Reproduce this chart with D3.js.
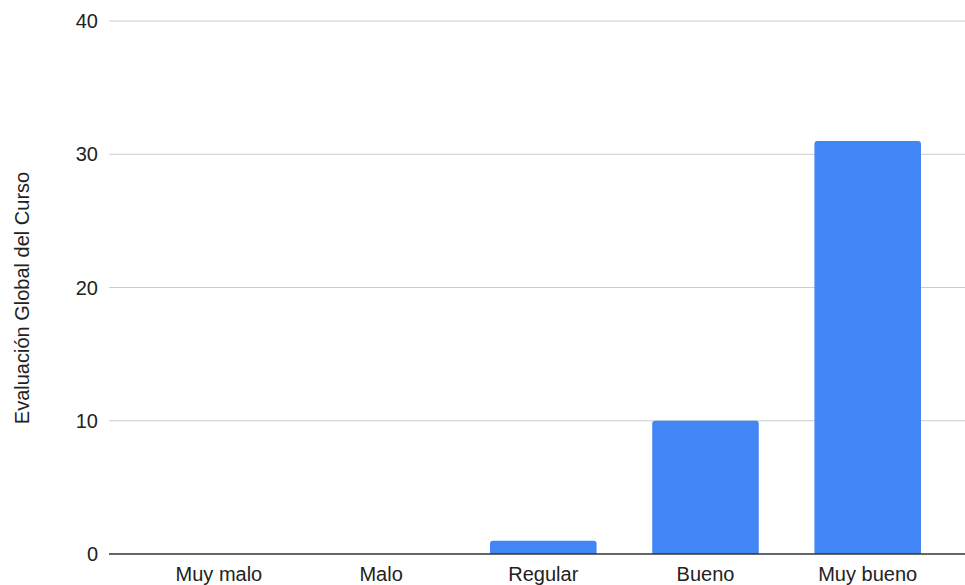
<!DOCTYPE html>
<html>
<head>
<meta charset="utf-8">
<script src="https://cdn.jsdelivr.net/npm/d3@7"></script>
<style>
    body { margin: 0; background: #fff; }
    svg { display: block; font-family: "Liberation Sans", Arial, sans-serif; }
</style>
</head>
<body>
<svg id="chart" width="965" height="585"></svg>
<script>
// Chart data
const categories = ['Muy malo', 'Malo', 'Regular', 'Bueno', 'Muy bueno'];
const values = [0, 0, 1, 10, 31];
const yTicks = [0, 10, 20, 30, 40];
const yTitle = 'Evaluación Global del Curso';

const svg = d3.select('#chart');

const plotLeft = 109, plotRight = 965;
const plotTop = 21, plotBottom = 554;

const x = d3.scaleBand()
    .domain(categories)
    .range([137.8, 948.8])
    .paddingInner(0.343)
    .paddingOuter(0.1715);

const y = d3.scaleLinear()
    .domain([0, 40])
    .range([plotBottom, plotTop]);

const rows = categories.map((c, i) => ({ cat: c, value: values[i] }));

// Grid lines
svg.append('g')
    .selectAll('line')
    .data(yTicks.filter(d => d !== 0))
    .join('line')
    .attr('x1', plotLeft)
    .attr('x2', plotRight)
    .attr('y1', d => y(d))
    .attr('y2', d => y(d))
    .style('stroke', '#cccccc')
    .style('stroke-width', 1);

// Y tick labels
svg.append('g')
    .selectAll('text')
    .data(yTicks)
    .join('text')
    .attr('x', 98)
    .attr('y', d => y(d))
    .attr('dy', '0.35em')
    .attr('text-anchor', 'end')
    .style('font-size', '20px')
    .style('fill', '#222')
    .text(d => d);

// Bars with rounded top corners
const r = 3;
function barPath(d) {
    const x0 = x(d.cat);
    const w = x.bandwidth();
    const y0 = y(0);
    const y1 = y(d.value);
    const rr = Math.min(r, (y0 - y1) / 2);
    return `M${x0},${y0}V${y1 + rr}Q${x0},${y1} ${x0 + rr},${y1}` +
        `H${x0 + w - rr}Q${x0 + w},${y1} ${x0 + w},${y1 + rr}V${y0}Z`;
}

svg.append('g')
    .selectAll('path')
    .data(rows.filter(d => d.value > 0))
    .join('path')
    .attr('d', barPath)
    .style('fill', '#4285f4');

// Baseline
svg.append('line')
    .attr('x1', plotLeft)
    .attr('x2', plotRight)
    .attr('y1', y(0))
    .attr('y2', y(0))
    .style('stroke', '#333')
    .style('stroke-width', 1.5);

// X labels
svg.append('g')
    .selectAll('text')
    .data(categories)
    .join('text')
    .attr('x', d => x(d) + x.bandwidth() / 2)
    .attr('y', 581)
    .attr('text-anchor', 'middle')
    .style('font-size', '20px')
    .style('fill', '#222')
    .text(d => d);

// Y axis title
svg.append('text')
    .attr('transform', 'translate(29, 298) rotate(-90)')
    .attr('text-anchor', 'middle')
    .style('font-size', '20px')
    .style('fill', '#222')
    .text(yTitle);
</script>
</body>
</html>
